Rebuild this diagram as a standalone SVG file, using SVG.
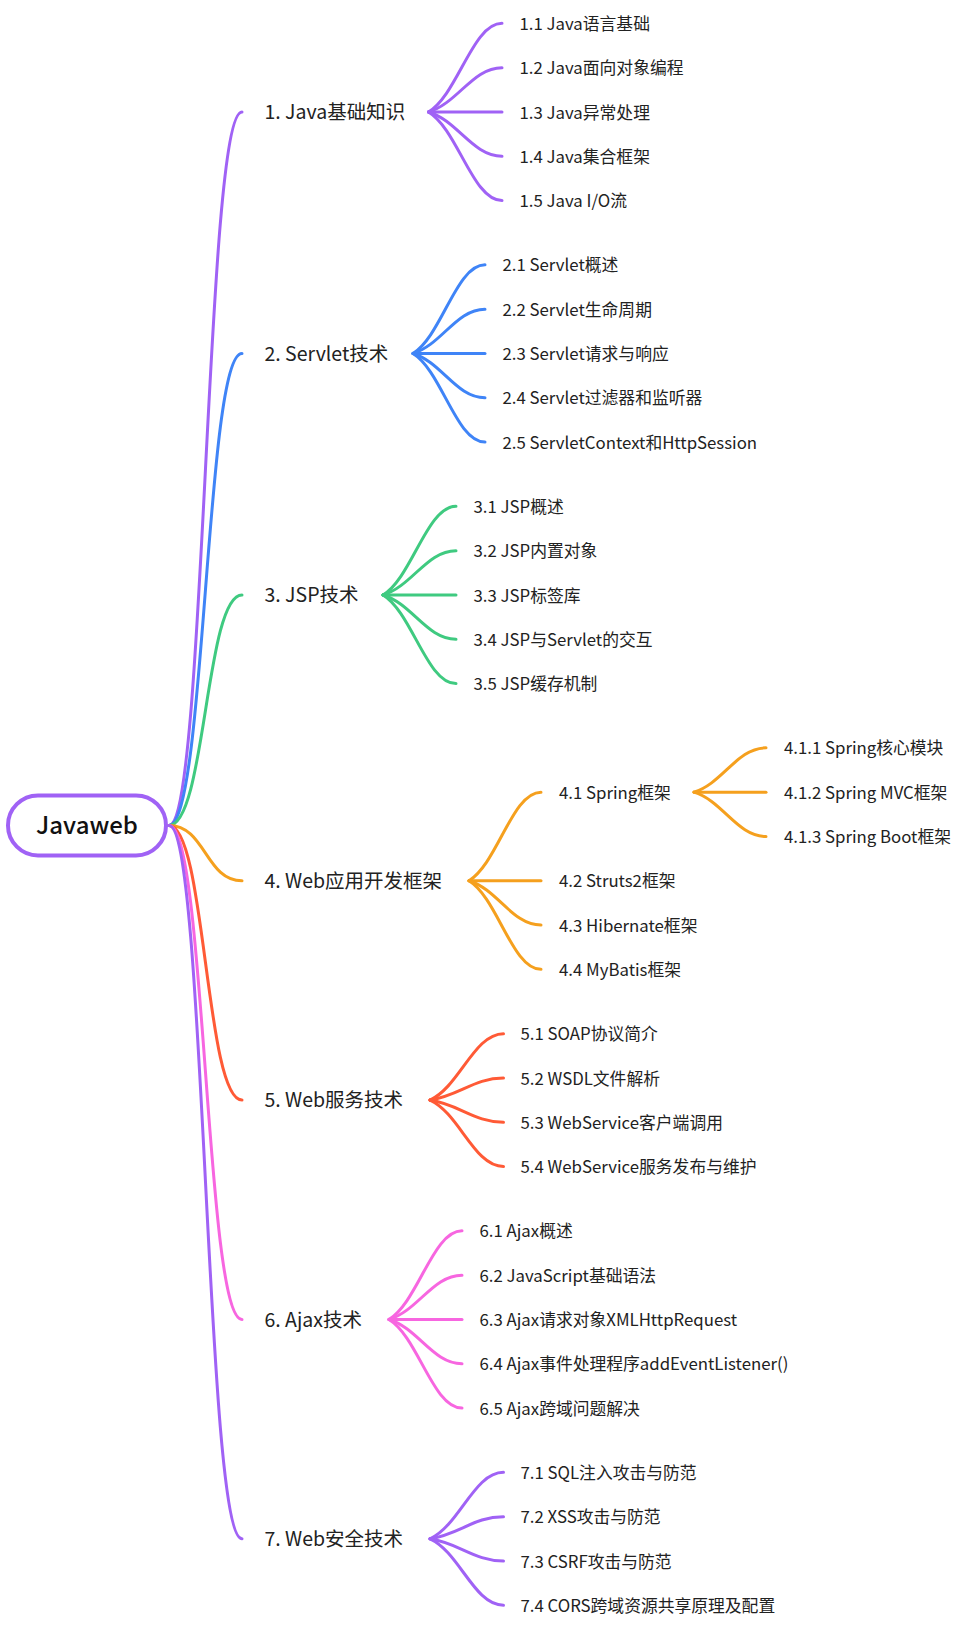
<svg xmlns="http://www.w3.org/2000/svg" width="973" height="1628" viewBox="0 0 973 1628">
<style>
text{font-family:"Noto Sans CJK SC","Noto Sans",sans-serif;fill:#222}
.root{font-size:24px;font-weight:500;fill:#111;text-anchor:middle}
.t1{font-size:19.5px}
.t2{font-size:16.8px}
.l{fill:none;stroke-width:3;stroke-linecap:round}
.purple{stroke:#a062f5}
.blue{stroke:#3f84f7}
.green{stroke:#3fca80}
.orange{stroke:#f5a01e}
.red{stroke:#ff5a36}
.pink{stroke:#f766e0}
</style>
<rect width="973" height="1628" fill="#fff"/>
<g id="connectors">
<path class="l purple" d="M169,825.4 C205.5,825.4 205.5,111.95 242,111.95"/>
<path class="l blue" d="M169,825.4 C205.5,825.4 205.5,353.45 242,353.45"/>
<path class="l green" d="M169,825.4 C205.5,825.4 205.5,594.95 242,594.95"/>
<path class="l orange" d="M169,825.4 C205.5,825.4 205.5,880.75 242,880.75"/>
<path class="l red" d="M169,825.4 C205.5,825.4 205.5,1100.1 242,1100.1"/>
<path class="l pink" d="M169,825.4 C205.5,825.4 205.5,1319.45 242,1319.45"/>
<path class="l purple" d="M169,825.4 C205.5,825.4 205.5,1538.8 242,1538.8"/>

<path class="l purple" d="M428.5,111.95 C457.9,94.23 472.6,23.35 502,23.35"/>
<path class="l purple" d="M428.5,111.95 C457.9,103.09 472.6,67.65 502,67.65"/>
<path class="l purple" d="M428.5,111.95 L502,111.95"/>
<path class="l purple" d="M428.5,111.95 C457.9,120.81 472.6,156.25 502,156.25"/>
<path class="l purple" d="M428.5,111.95 C457.9,129.67 472.6,200.55 502,200.55"/>

<path class="l blue" d="M413,353.45 C441.8,335.73 456.2,264.85 485,264.85"/>
<path class="l blue" d="M413,353.45 C441.8,344.59 456.2,309.15 485,309.15"/>
<path class="l blue" d="M413,353.45 L485,353.45"/>
<path class="l blue" d="M413,353.45 C441.8,362.31 456.2,397.75 485,397.75"/>
<path class="l blue" d="M413,353.45 C441.8,371.17 456.2,442.05 485,442.05"/>

<path class="l green" d="M383,594.95 C412.2,577.23 426.8,506.35 456,506.35"/>
<path class="l green" d="M383,594.95 C412.2,586.09 426.8,550.65 456,550.65"/>
<path class="l green" d="M383,594.95 L456,594.95"/>
<path class="l green" d="M383,594.95 C412.2,603.81 426.8,639.25 456,639.25"/>
<path class="l green" d="M383,594.95 C412.2,612.67 426.8,683.55 456,683.55"/>

<path class="l orange" d="M469,880.75 C497.8,863.03 512.2,792.15 541,792.15"/>
<path class="l orange" d="M469,880.75 L541,880.75"/>
<path class="l orange" d="M469,880.75 C497.8,889.61 512.2,925.05 541,925.05"/>
<path class="l orange" d="M469,880.75 C497.8,898.47 512.2,969.35 541,969.35"/>
<path class="l orange" d="M694,792.15 C722.8,783.29 737.2,747.85 766,747.85"/>
<path class="l orange" d="M694,792.15 L766,792.15"/>
<path class="l orange" d="M694,792.15 C722.8,801.01 737.2,836.45 766,836.45"/>

<path class="l red" d="M430,1100.1 C459.4,1086.81 474.1,1033.65 503.5,1033.65"/>
<path class="l red" d="M430,1100.1 C459.4,1095.67 474.1,1077.95 503.5,1077.95"/>
<path class="l red" d="M430,1100.1 C459.4,1104.53 474.1,1122.25 503.5,1122.25"/>
<path class="l red" d="M430,1100.1 C459.4,1113.39 474.1,1166.55 503.5,1166.55"/>

<path class="l pink" d="M389,1319.45 C418.2,1301.73 432.8,1230.85 462,1230.85"/>
<path class="l pink" d="M389,1319.45 C418.2,1310.59 432.8,1275.15 462,1275.15"/>
<path class="l pink" d="M389,1319.45 L462,1319.45"/>
<path class="l pink" d="M389,1319.45 C418.2,1328.31 432.8,1363.75 462,1363.75"/>
<path class="l pink" d="M389,1319.45 C418.2,1337.17 432.8,1408.05 462,1408.05"/>

<path class="l purple" d="M430,1538.8 C459.4,1525.51 474.1,1472.35 503.5,1472.35"/>
<path class="l purple" d="M430,1538.8 C459.4,1534.37 474.1,1516.65 503.5,1516.65"/>
<path class="l purple" d="M430,1538.8 C459.4,1543.23 474.1,1560.95 503.5,1560.95"/>
<path class="l purple" d="M430,1538.8 C459.4,1552.09 474.1,1605.25 503.5,1605.25"/>
</g>

<g id="root">
<rect x="8" y="795.4" width="158" height="60" rx="30" ry="30" fill="#fff" stroke="#a062f5" stroke-width="4"/>
<text class="root" x="87" y="834.3">Javaweb</text>
</g>

<g id="n1"><text class="t1" x="264.5" y="119">1. Java基础知识</text></g>
<g id="n1-1"><text class="t2" x="519.5" y="29.9">1.1 Java语言基础</text></g>
<g id="n1-2"><text class="t2" x="519.5" y="74.2">1.2 Java面向对象编程</text></g>
<g id="n1-3"><text class="t2" x="519.5" y="118.5">1.3 Java异常处理</text></g>
<g id="n1-4"><text class="t2" x="519.5" y="162.8">1.4 Java集合框架</text></g>
<g id="n1-5"><text class="t2" x="519.5" y="207.1">1.5 Java I/O流</text></g>

<g id="n2"><text class="t1" x="264.5" y="360.5">2. Servlet技术</text></g>
<g id="n2-1"><text class="t2" x="502.5" y="271.4">2.1 Servlet概述</text></g>
<g id="n2-2"><text class="t2" x="502.5" y="315.7">2.2 Servlet生命周期</text></g>
<g id="n2-3"><text class="t2" x="502.5" y="360">2.3 Servlet请求与响应</text></g>
<g id="n2-4"><text class="t2" x="502.5" y="404.3">2.4 Servlet过滤器和监听器</text></g>
<g id="n2-5"><text class="t2" x="502.5" y="448.6">2.5 ServletContext和HttpSession</text></g>

<g id="n3"><text class="t1" x="264.5" y="602">3. JSP技术</text></g>
<g id="n3-1"><text class="t2" x="473.5" y="512.9">3.1 JSP概述</text></g>
<g id="n3-2"><text class="t2" x="473.5" y="557.2">3.2 JSP内置对象</text></g>
<g id="n3-3"><text class="t2" x="473.5" y="601.5">3.3 JSP标签库</text></g>
<g id="n3-4"><text class="t2" x="473.5" y="645.8">3.4 JSP与Servlet的交互</text></g>
<g id="n3-5"><text class="t2" x="473.5" y="690.1">3.5 JSP缓存机制</text></g>

<g id="n4"><text class="t1" x="264.5" y="887.8">4. Web应用开发框架</text></g>
<g id="n4-1"><text class="t2" x="559" y="798.7">4.1 Spring框架</text></g>
<g id="n4-1-1"><text class="t2" x="784" y="754.4">4.1.1 Spring核心模块</text></g>
<g id="n4-1-2"><text class="t2" x="784" y="798.7">4.1.2 Spring MVC框架</text></g>
<g id="n4-1-3"><text class="t2" x="784" y="843">4.1.3 Spring Boot框架</text></g>
<g id="n4-2"><text class="t2" x="559" y="887.3">4.2 Struts2框架</text></g>
<g id="n4-3"><text class="t2" x="559" y="931.6">4.3 Hibernate框架</text></g>
<g id="n4-4"><text class="t2" x="559" y="975.9">4.4 MyBatis框架</text></g>

<g id="n5"><text class="t1" x="264.5" y="1107.2">5. Web服务技术</text></g>
<g id="n5-1"><text class="t2" x="520.5" y="1040.2">5.1 SOAP协议简介</text></g>
<g id="n5-2"><text class="t2" x="520.5" y="1084.5">5.2 WSDL文件解析</text></g>
<g id="n5-3"><text class="t2" x="520.5" y="1128.8">5.3 WebService客户端调用</text></g>
<g id="n5-4"><text class="t2" x="520.5" y="1173.1">5.4 WebService服务发布与维护</text></g>

<g id="n6"><text class="t1" x="264.5" y="1326.5">6. Ajax技术</text></g>
<g id="n6-1"><text class="t2" x="479.5" y="1237.4">6.1 Ajax概述</text></g>
<g id="n6-2"><text class="t2" x="479.5" y="1281.7">6.2 JavaScript基础语法</text></g>
<g id="n6-3"><text class="t2" x="479.5" y="1326">6.3 Ajax请求对象XMLHttpRequest</text></g>
<g id="n6-4"><text class="t2" x="479.5" y="1370.3">6.4 Ajax事件处理程序addEventListener()</text></g>
<g id="n6-5"><text class="t2" x="479.5" y="1414.6">6.5 Ajax跨域问题解决</text></g>

<g id="n7"><text class="t1" x="264.5" y="1545.9">7. Web安全技术</text></g>
<g id="n7-1"><text class="t2" x="520.5" y="1478.9">7.1 SQL注入攻击与防范</text></g>
<g id="n7-2"><text class="t2" x="520.5" y="1523.2">7.2 XSS攻击与防范</text></g>
<g id="n7-3"><text class="t2" x="520.5" y="1567.5">7.3 CSRF攻击与防范</text></g>
<g id="n7-4"><text class="t2" x="520.5" y="1611.8">7.4 CORS跨域资源共享原理及配置</text></g>
</svg>
